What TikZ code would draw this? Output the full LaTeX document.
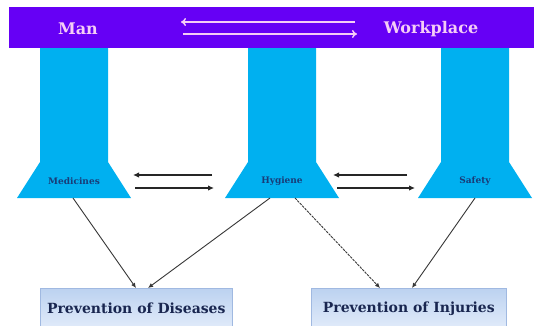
\documentclass[tikz,border=0pt]{standalone}
\usepackage{fontspec}
\setmainfont{DejaVu Serif}
\usetikzlibrary{arrows.meta}
\definecolor{barpurple}{RGB}{102,0,245}
\definecolor{pillar}{RGB}{0,176,240}
\definecolor{pink}{RGB}{245,205,245}
\definecolor{lbl}{RGB}{25,60,120}
\definecolor{navy}{RGB}{25,38,80}
\definecolor{boxtop}{RGB}{188,210,240}
\definecolor{boxbot}{RGB}{225,235,250}
\definecolor{boxedge}{RGB}{160,185,225}
\definecolor{conn}{RGB}{55,55,55}
\begin{document}
\begin{tikzpicture}[x=1pt,y=-1pt,
  bartext/.style={text=pink,font=\bfseries\fontsize{16}{18}\selectfont,inner sep=0pt},
  pillarlabel/.style={text=lbl,font=\bfseries\fontsize{9}{10}\selectfont,inner sep=1pt},
  outbox/.style={draw=boxedge,line width=0.6pt,top color=boxtop,bottom color=boxbot,
    text=navy,font=\bfseries\fontsize{14}{16}\selectfont,minimum height=40pt,anchor=north west,inner sep=0pt},
  bararrow/.style={draw=pink,line width=1.5pt,-{To[length=5pt,width=8pt]}},
  midarrow/.style={draw=black!85,line width=1.5pt,-{Latex[length=6pt,width=5.5pt]}},
  connector/.style={draw=conn,line width=0.9pt,-{Latex[length=5pt,width=4.5pt]}}
]
\useasboundingbox (0,0) rectangle (534,325);
\fill[white] (0,0) rectangle (534,325);
% top bar
\fill[barpurple] (9,7) rectangle (534,48);
\node[bartext] (man) at (78,29) {Man};
\node[bartext] (work) at (431,29) {Workplace};
\coordinate (bl1) at (355,22); \coordinate (bl2) at (181,22);
\coordinate (br1) at (183,34); \coordinate (br2) at (357,34);
\draw[bararrow] (bl1) -- (bl2);
\draw[bararrow] (br1) -- (br2);
% pillars
\foreach \c in {74,282,475}{
  \fill[pillar] (\c-34,48) -- (\c+34,48) -- (\c+34,162) -- (\c+57,198) -- (\c-57,198) -- (\c-34,162) -- cycle;
}
\node[pillarlabel] (med) at (74,181) {Medicines};
\node[pillarlabel] (hyg) at (282,181) {Hygiene};
\node[pillarlabel] (saf) at (475,181) {Safety};
% arrows between pillars
\coordinate (a1) at (212,175); \coordinate (a2) at (133,175);
\coordinate (a3) at (135,188); \coordinate (a4) at (214,188);
\coordinate (a5) at (407,175); \coordinate (a6) at (333,175);
\coordinate (a7) at (337,188); \coordinate (a8) at (415,188);
\draw[midarrow] (a1) -- (a2);
\draw[midarrow] (a3) -- (a4);
\draw[midarrow] (a5) -- (a6);
\draw[midarrow] (a7) -- (a8);
% bottom boxes
\node[outbox,minimum width=192pt] (dis) at (40,288) {\raisebox{1pt}{Prevention of Diseases}};
\node[outbox,minimum width=195pt] (inj) at (311,288) {\raisebox{1pt}{Prevention of Injuries}};
% connectors
\coordinate (m0) at (73,198);
\coordinate (h0) at (270,198);
\coordinate (h1) at (295,198);
\coordinate (s0) at (475,198);
\draw[connector] (m0) -- (dis.north west -| 136,288);
\draw[connector] (h0) -- (dis.north west -| 148,288);
\draw[connector,dash pattern=on 2.5pt off 1pt] (h1) -- (inj.north west -| 380,288);
\draw[connector] (s0) -- (inj.north west -| 412,288);
\end{tikzpicture}
\end{document}
